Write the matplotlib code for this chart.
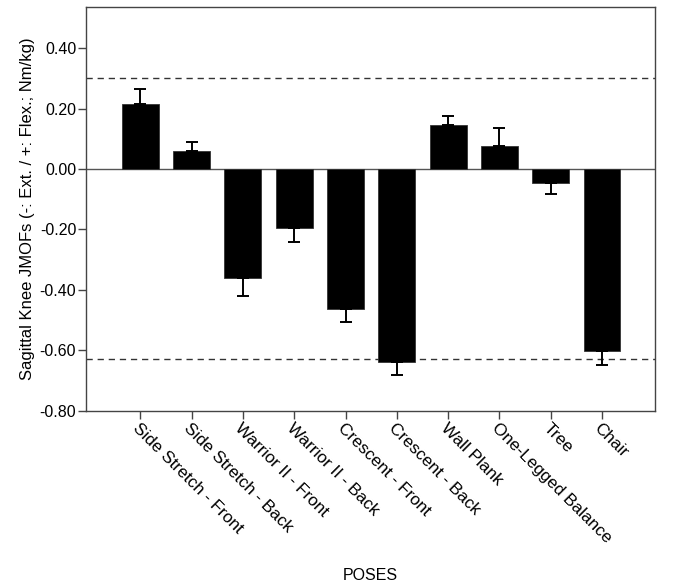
import numpy as np
import matplotlib
matplotlib.use('Agg')
import matplotlib.pyplot as plt

plt.rcParams['font.family'] = ['Liberation Sans', 'DejaVu Sans']

poses = ['Side Stretch - Front', 'Side Stretch - Back', 'Warrior II - Front',
         'Warrior II - Back', 'Crescent - Front', 'Crescent - Back',
         'Wall Plank', 'One-Legged Balance', 'Tree', 'Chair']
means = [0.215, 0.058, -0.360, -0.195, -0.463, -0.639, 0.145, 0.075, -0.045, -0.604]
errs = [0.050, 0.030, 0.059, 0.048, 0.042, 0.043, 0.030, 0.062, 0.038, 0.046]
ref_lines = [0.30, -0.63]
yticks = [0.40, 0.20, 0.00, -0.20, -0.40, -0.60, -0.80]

fig = plt.figure(figsize=(6.85, 5.88), dpi=100)
ax = fig.add_axes([0.1255, 0.3015, 0.8305, 0.686])

x = np.arange(len(poses))
means = np.array(means)
errs = np.array(errs)
# error bars only point away from zero
lower = np.where(means < 0, errs, 0)
upper = np.where(means >= 0, errs, 0)

ax.bar(x, means, width=0.72, color='black', edgecolor='#333333', linewidth=0.6, zorder=2)
ax.errorbar(x, means, yerr=[lower, upper], fmt='none', ecolor='black',
            elinewidth=1.4, capsize=4.6, capthick=1.4, zorder=3)

ax.axhline(0, color='#555555', linewidth=1.0, zorder=1)
for v in ref_lines:
    ax.axhline(v, color='#333333', linewidth=1.0, linestyle=(0, (4.5, 3.5)), zorder=1)

ax.set_xlim(-1.06, 10.03)
ax.set_ylim(-0.80, 0.535)
ax.set_yticks(yticks)
ax.set_yticklabels(['%.2f' % v for v in yticks], fontsize=11.5)
ax.set_xticks(x)
ax.set_xticklabels(poses, rotation=-45, ha='left', va='top', rotation_mode='anchor', fontsize=12.3)

for s in ax.spines.values():
    s.set_color('#444444')
    s.set_linewidth(1.0)
ax.tick_params(axis='both', length=6, width=1.0, color='#444444')
ax.tick_params(axis='y', pad=1)
ax.tick_params(axis='x', pad=1)

ax.set_ylabel('Sagittal Knee JMOFs (-: Ext. / +: Flex.; Nm/kg)', fontsize=12, labelpad=3)
fig.text(0.5 * (0.1255 + 0.956), 1 - 576 / 588, 'POSES', ha='center', va='center', fontsize=11.5)

fig.savefig('out.png', dpi=100)
